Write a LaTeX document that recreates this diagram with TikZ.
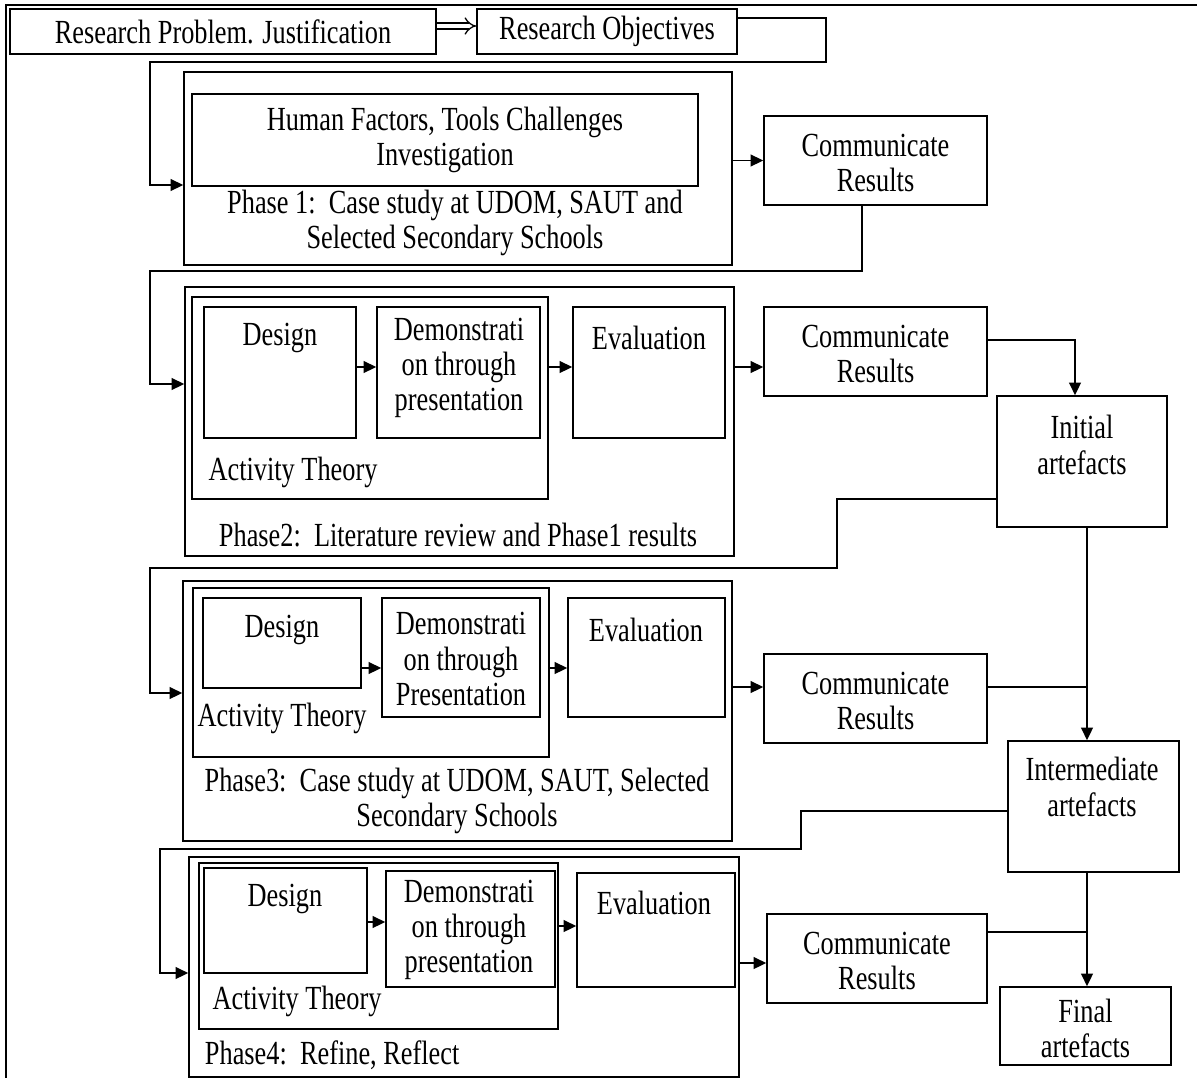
\documentclass[tikz,border=0pt]{standalone}
\usepackage{fontspec}
\setmainfont{Liberation Serif}[FakeStretch=0.78]
\usetikzlibrary{arrows.meta,fit}

\begin{document}
\begin{tikzpicture}[x=0.025cm,y=-0.025cm,font=\fontsize{24}{25}\selectfont,
    box/.style={draw,line width=1.2pt,inner sep=0pt},
    link/.style={line width=1.2pt},
    arr/.style={link,-{Triangle[length=9pt,width=8.5pt]}},
    dbl/.style={line width=0.9pt,double,double distance=3.4pt,-{Implies}}]
				\useasboundingbox (0,0) rectangle (1197,1078);
				% Frame
				\draw[link] (6,1078) |- (1197,5);
				
				% Top row
				\node[box,fit={(10,9) (436,54)},label=center:Research Problem. Justification] (rpj) {};
				\node[box,fit={(477,9) (737,54)},label=center:Research Objectives] (ro) {};
				\draw[dbl] (rpj.east |- 0,26) -- (ro.west |- 0,26);
				
				% Phase 1
				\node[box,fit={(184,72) (732,265)}] (p1) {};
				\node[box,fit={(192,94) (698,186)},label={[align=center]center:Human Factors, Tools Challenges\\Investigation}] (hf) {};
				\node[align=center] (p1txt) at (455,223) {Phase 1:\ \ Case study at UDOM, SAUT and\\Selected Secondary Schools};
				\node[box,fit={(764,116) (987,205)},label={[align=center,yshift=-1.5pt]center:Communicate\\Results}] (cr1) {};
				
				% Phase 2
				\node[box,fit={(185,287) (734,556)}] (p2) {};
				\node[box,fit={(192,297) (548,499)}] (at2) {};
				\node[box,fit={(204,307) (356,438)}] (d2) {};
				\node[box,fit={(377,307) (540,438)}] (m2) {};
				\node[box,fit={(573,307) (725,438)}] (e2) {};
				\node (d2txt) at (280,338) {Design};
				\node[align=center] (m2txt) at (459,368) {Demonstrati\\on through\\presentation};
				\node (e2txt) at (649,338) {Evaluation};
				\node (at2txt) at (293,472) {Activity Theory};
				\node (p2txt) at (458,535) {Phase2:\ \ Literature review and Phase1 results};
				\node[box,fit={(764,307) (987,396)},label={[align=center,yshift=-1.5pt]center:Communicate\\Results}] (cr2) {};
				
				% Phase 3
				\node[box,fit={(183,581) (732,841)}] (p3) {};
				\node[box,fit={(193,588) (549,757)}] (at3) {};
				\node[box,fit={(203,598) (361,688)}] (d3) {};
				\node[box,fit={(382,598) (540,717)}] (m3) {};
				\node[box,fit={(568,598) (725,717)}] (e3) {};
				\node (d3txt) at (282,630) {Design};
				\node[align=center] (m3txt) at (461,659) {Demonstrati\\on through\\Presentation};
				\node (e3txt) at (646,630) {Evaluation};
				\node (at3txt) at (282,718) {Activity Theory};
				\node[align=center] (p3txt) at (457,801) {Phase3:\ \ Case study at UDOM, SAUT, Selected\\Secondary Schools};
				\node[box,fit={(764,654) (987,743)},label={[align=center,yshift=-1.5pt]center:Communicate\\Results}] (cr3) {};
				
				% Phase 4
				\node[box,fit={(189,857) (739,1077)}] (p4) {};
				\node[box,fit={(199,863) (558,1029)}] (at4) {};
				\node[box,fit={(204,868) (367,973)}] (d4) {};
				\node[box,fit={(386,871) (555,987)}] (m4) {};
				\node[box,fit={(577,873) (735,987)}] (e4) {};
				\node (d4txt) at (285,899) {Design};
				\node[align=center] (m4txt) at (469,930) {Demonstrati\\on through\\presentation};
				\node (e4txt) at (654,903) {Evaluation};
				\node (at4txt) at (297,1001) {Activity Theory};
				\node[anchor=west] (p4txt) at (200,1055) {Phase4:\ \ Refine, Reflect};
				\node[box,fit={(767,914) (987,1003)},label={[align=center,yshift=-1.5pt]center:Communicate\\Results}] (cr4) {};
				
				% Artefacts
				\node[box,fit={(997,396) (1167,527)}] (ini) {};
				\node[align=center] (initxt) at (1082,445) {Initial\\artefacts};
				\node[box,fit={(1008,741) (1179,872)}] (im) {};
				\node[align=center] (imtxt) at (1092,787) {Intermediate\\artefacts};
				\node[box,fit={(1000,987) (1171,1065)},label={[align=center,yshift=-1.5pt]center:Final\\artefacts}] (fin) {};
				\coordinate (j3) at (1087,687);
				\coordinate (j4) at (1087,932);
				
				% Connectors
				\draw[arr] (ro.east |- 0,18) -| (826,62) -| (150,185) -- (p1.west |- 0,185);
				\draw[arr] (p1.east |- cr1.west) -- (cr1.west);
				\draw[arr] (cr1.south -| 862,0) |- (150,271) |- (p2.west |- 0,384);
				\draw[arr] (d2.east |- 0,367) -- (m2.west |- 0,367);
				\draw[arr] (at2.east |- 0,367) -- (e2.west |- 0,367);
				\draw[arr] (p2.east |- 0,367) -- (cr2.west |- 0,367);
				\draw[arr] (cr2.east |- 0,340) -| (ini.north -| 1075,0);
				\draw[arr] (ini.west |- 0,499) -| (837,568) -| (150,693) -- (p3.west |- 0,693);
				\draw[arr] (ini.south -| 1087,0) -- (im.north -| 1087,0);
				\draw[arr] (d3.east |- 0,668) -- (m3.west |- 0,668);
				\draw[arr] (at3.east |- 0,668) -- (e3.west |- 0,668);
				\draw[arr] (p3.east |- 0,687) -- (cr3.west |- 0,687);
				\draw[link] (cr3.east |- 0,687) -- (j3);
				\draw[arr] (im.west |- 0,811) -| (801,849) -| (160,973) -- (p4.west |- 0,973);
				\draw[arr] (im.south -| 1087,0) -- (fin.north -| 1087,0);
				\draw[arr] (d4.east |- 0,922) -- (m4.west |- 0,922);
				\draw[arr] (at4.east |- 0,926) -- (e4.west |- 0,926);
				\draw[arr] (p4.east |- 0,963) -- (cr4.west |- 0,963);
				\draw[link] (cr4.east |- 0,932) -- (j4);
			\end{tikzpicture}
\end{document}
